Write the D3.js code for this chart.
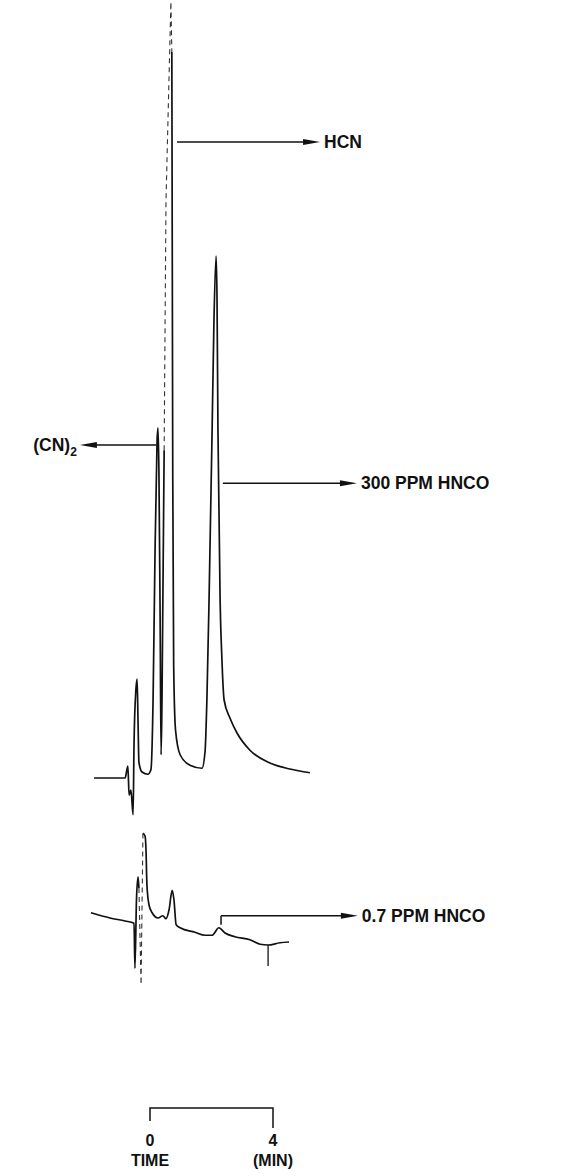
<!DOCTYPE html>
<html>
<head>
<meta charset="utf-8">
<script src="https://cdn.jsdelivr.net/npm/d3@7"></script>
<style>
  html, body { margin: 0; padding: 0; background: #fff; }
  text { font-family: "Liberation Sans", Arial, sans-serif; font-weight: bold; fill: #111; }
</style>
</head>
<body>
<div id="chart"></div>
<script>
// upper chromatogram (300 ppm HNCO), time in min, response in % of full scale
const upperTime = [-1.82, -0.81, -0.72, -0.68, -0.62, -0.55, -0.52, -0.46, -0.42, -0.39, -0.36, -0.26, -0.07,
  0.03, 0.10, 0.16, 0.23, 0.26, 0.29, 0.33, 0.36, 0.39, 0.46, 0.52, 0.68, 0.71, 0.74, 0.77, 0.83, 0.98, 1.30,
  1.69, 1.79, 1.85, 1.92, 2.02, 2.08, 2.15, 2.18, 2.21, 2.28, 2.34, 2.41, 2.60, 2.83, 3.25, 3.90, 4.55, 5.20];
const upperResp = [0, 0, 1.6, -2.3, -1.6, -4.9, 4.4, 11.7, 13.2, 7.7, 2.1, 0.8, 0.5,
  1.1, 10.4, 29, 45, 46.7, 41, 21, 3.1, 10.4, 43.7, 77, 103.5, 96.8, 40, 15, 6.4, 3.1, 1.7,
  1.3, 3.5, 10.4, 23.7, 46.4, 61, 69.6, 63.7, 46.4, 23.7, 15.7, 10.4, 8, 6, 3.7, 2, 1.2, 0.7];
const upperFast = [22, 25]; // pen moved too fast here -> faint/dotted stroke

// lower chromatogram (0.7 ppm HNCO)
const lowerTime = [-1.92, -1.30, -0.81, -0.52, -0.49, -0.44, -0.39, -0.36, -0.29, -0.23, -0.16, -0.13, -0.10,
  -0.03, 0.07, 0.26, 0.42, 0.52, 0.62, 0.72, 0.78, 0.85, 0.98, 1.46, 1.79, 2.02, 2.24, 2.44, 2.76, 3.25,
  3.58, 3.84, 4.23, 4.52];
const lowerResp = [4.3, 3.6, 3.2, 2.9, -3.1, 6, 9.1, 7.6, -5.3, 14.9, 14.5, 12.7, 8.0,
  5.3, 4.3, 3.6, 3.9, 3.5, 4.7, 7.3, 6.0, 2.7, 2.3, 1.7, 1.3, 1.3, 2.3, 1.6, 1.1, 0.7,
  0.1, 0, 0.3, 0.4];
const lowerFast = [7, 9];
const lowerMarks = [{ t: 3.84, from: 0, to: -2.8 }];

// peak labels
const upperLabels = [
  { name: "HCN", from: 0.88, to: 5.53, r: 84.8 },
  { name: "(CN)", sub: "2", from: 0.20, to: -2.28, r: 44.4 },
  { name: "300 PPM HNCO", from: 2.37, to: 6.73, r: 39.3 }
];
const lowerLabels = [
  { name: "0.7 PPM HNCO", from: 2.31, to: 6.76, r: 3.9, r0: 2.7 }
];

const scaleTicks = ["0", "4"];
const scaleUnits = ["TIME", "(MIN)"];

const width = 565, height = 1176;

const svg = d3.select("#chart").append("svg")
  .attr("width", width)
  .attr("height", height);

svg.append("rect").attr("width", width).attr("height", height).attr("fill", "#fff");

const x = d3.scaleLinear().domain([0, 4]).range([150, 273]);
const yUpper = d3.scaleLinear().domain([0, 100]).range([778, 28]);
const yLower = d3.scaleLinear().domain([0, 100]).range([945, 195]);

const drawTrace = (time, resp, fast, y) => {
  const pts = time.map((t, i) => [t, resp[i]]);
  const line = d3.line()
    .x((d) => x(d[0]))
    .y((d) => y(d[1]))
    .curve(d3.curveMonotoneX);

  // solid part, broken where the pen was fast
  svg.append("path")
    .attr("d", line.defined((d, i) => i <= fast[0] || i >= fast[1])(pts))
    .attr("fill", "none")
    .attr("stroke", "#111")
    .attr("stroke-width", 1.7)
    .attr("stroke-linejoin", "round");

  svg.append("path")
    .attr("d", d3.line().x((d) => x(d[0])).y((d) => y(d[1]))(pts.slice(fast[0], fast[1] + 1)))
    .attr("fill", "none")
    .attr("stroke", "#333")
    .attr("stroke-width", 1.1)
    .attr("stroke-dasharray", "5,4");
};

drawTrace(upperTime, upperResp, upperFast, yUpper);
drawTrace(lowerTime, lowerResp, lowerFast, yLower);

svg.selectAll(".mark")
  .data(lowerMarks)
  .join("line")
  .attr("x1", (d) => x(d.t)).attr("x2", (d) => x(d.t))
  .attr("y1", (d) => yLower(d.from)).attr("y2", (d) => yLower(d.to))
  .attr("stroke", "#111")
  .attr("stroke-width", 1.3);

// arrow with long narrow head
const arrow = (x1, x2, yy) => {
  const dir = Math.sign(x2 - x1);
  svg.append("line")
    .attr("x1", x1).attr("x2", x2 - dir * 10)
    .attr("y1", yy).attr("y2", yy)
    .attr("stroke", "#111")
    .attr("stroke-width", 1.5);
  svg.append("path")
    .attr("d", `M${x2},${yy} L${x2 - dir * 17},${yy - 3} L${x2 - dir * 17},${yy + 3} Z`)
    .attr("fill", "#111");
};

const label = (d, y) => {
  const xs = x(d.from), xe = x(d.to), yy = y(d.r);
  if (d.r0 !== undefined) {
    svg.append("line")
      .attr("x1", xs).attr("x2", xs)
      .attr("y1", y(d.r0)).attr("y2", yy)
      .attr("stroke", "#111").attr("stroke-width", 1.5);
  }
  arrow(xs, xe, yy);
  const left = xe < xs;
  const t = svg.append("text")
    .attr("x", left ? xe - 3 : xe + 4)
    .attr("y", yy + 6)
    .attr("text-anchor", left ? "end" : "start")
    .attr("font-size", 17.5)
    .text(d.name);
  if (d.sub) {
    t.append("tspan").attr("dy", 5).attr("font-size", 12).text(d.sub);
  }
};

upperLabels.forEach((d) => label(d, yUpper));
lowerLabels.forEach((d) => label(d, yLower));

// time scale bar
const barY = 1108;
svg.append("path")
  .attr("d", `M${x(0)},${barY + 13} V${barY} H${x(4)} V${barY + 20}`)
  .attr("fill", "none")
  .attr("stroke", "#111")
  .attr("stroke-width", 1.5);

svg.selectAll(".tick-label")
  .data(scaleTicks)
  .join("text")
  .attr("x", (d) => x(+d))
  .attr("y", 1146)
  .attr("text-anchor", "middle")
  .attr("font-size", 16)
  .text((d) => d);

svg.selectAll(".unit-label")
  .data(scaleUnits)
  .join("text")
  .attr("x", (d, i) => x(i * 4))
  .attr("y", 1166)
  .attr("text-anchor", "middle")
  .attr("font-size", 16)
  .text((d) => d);
</script>
</body>
</html>
